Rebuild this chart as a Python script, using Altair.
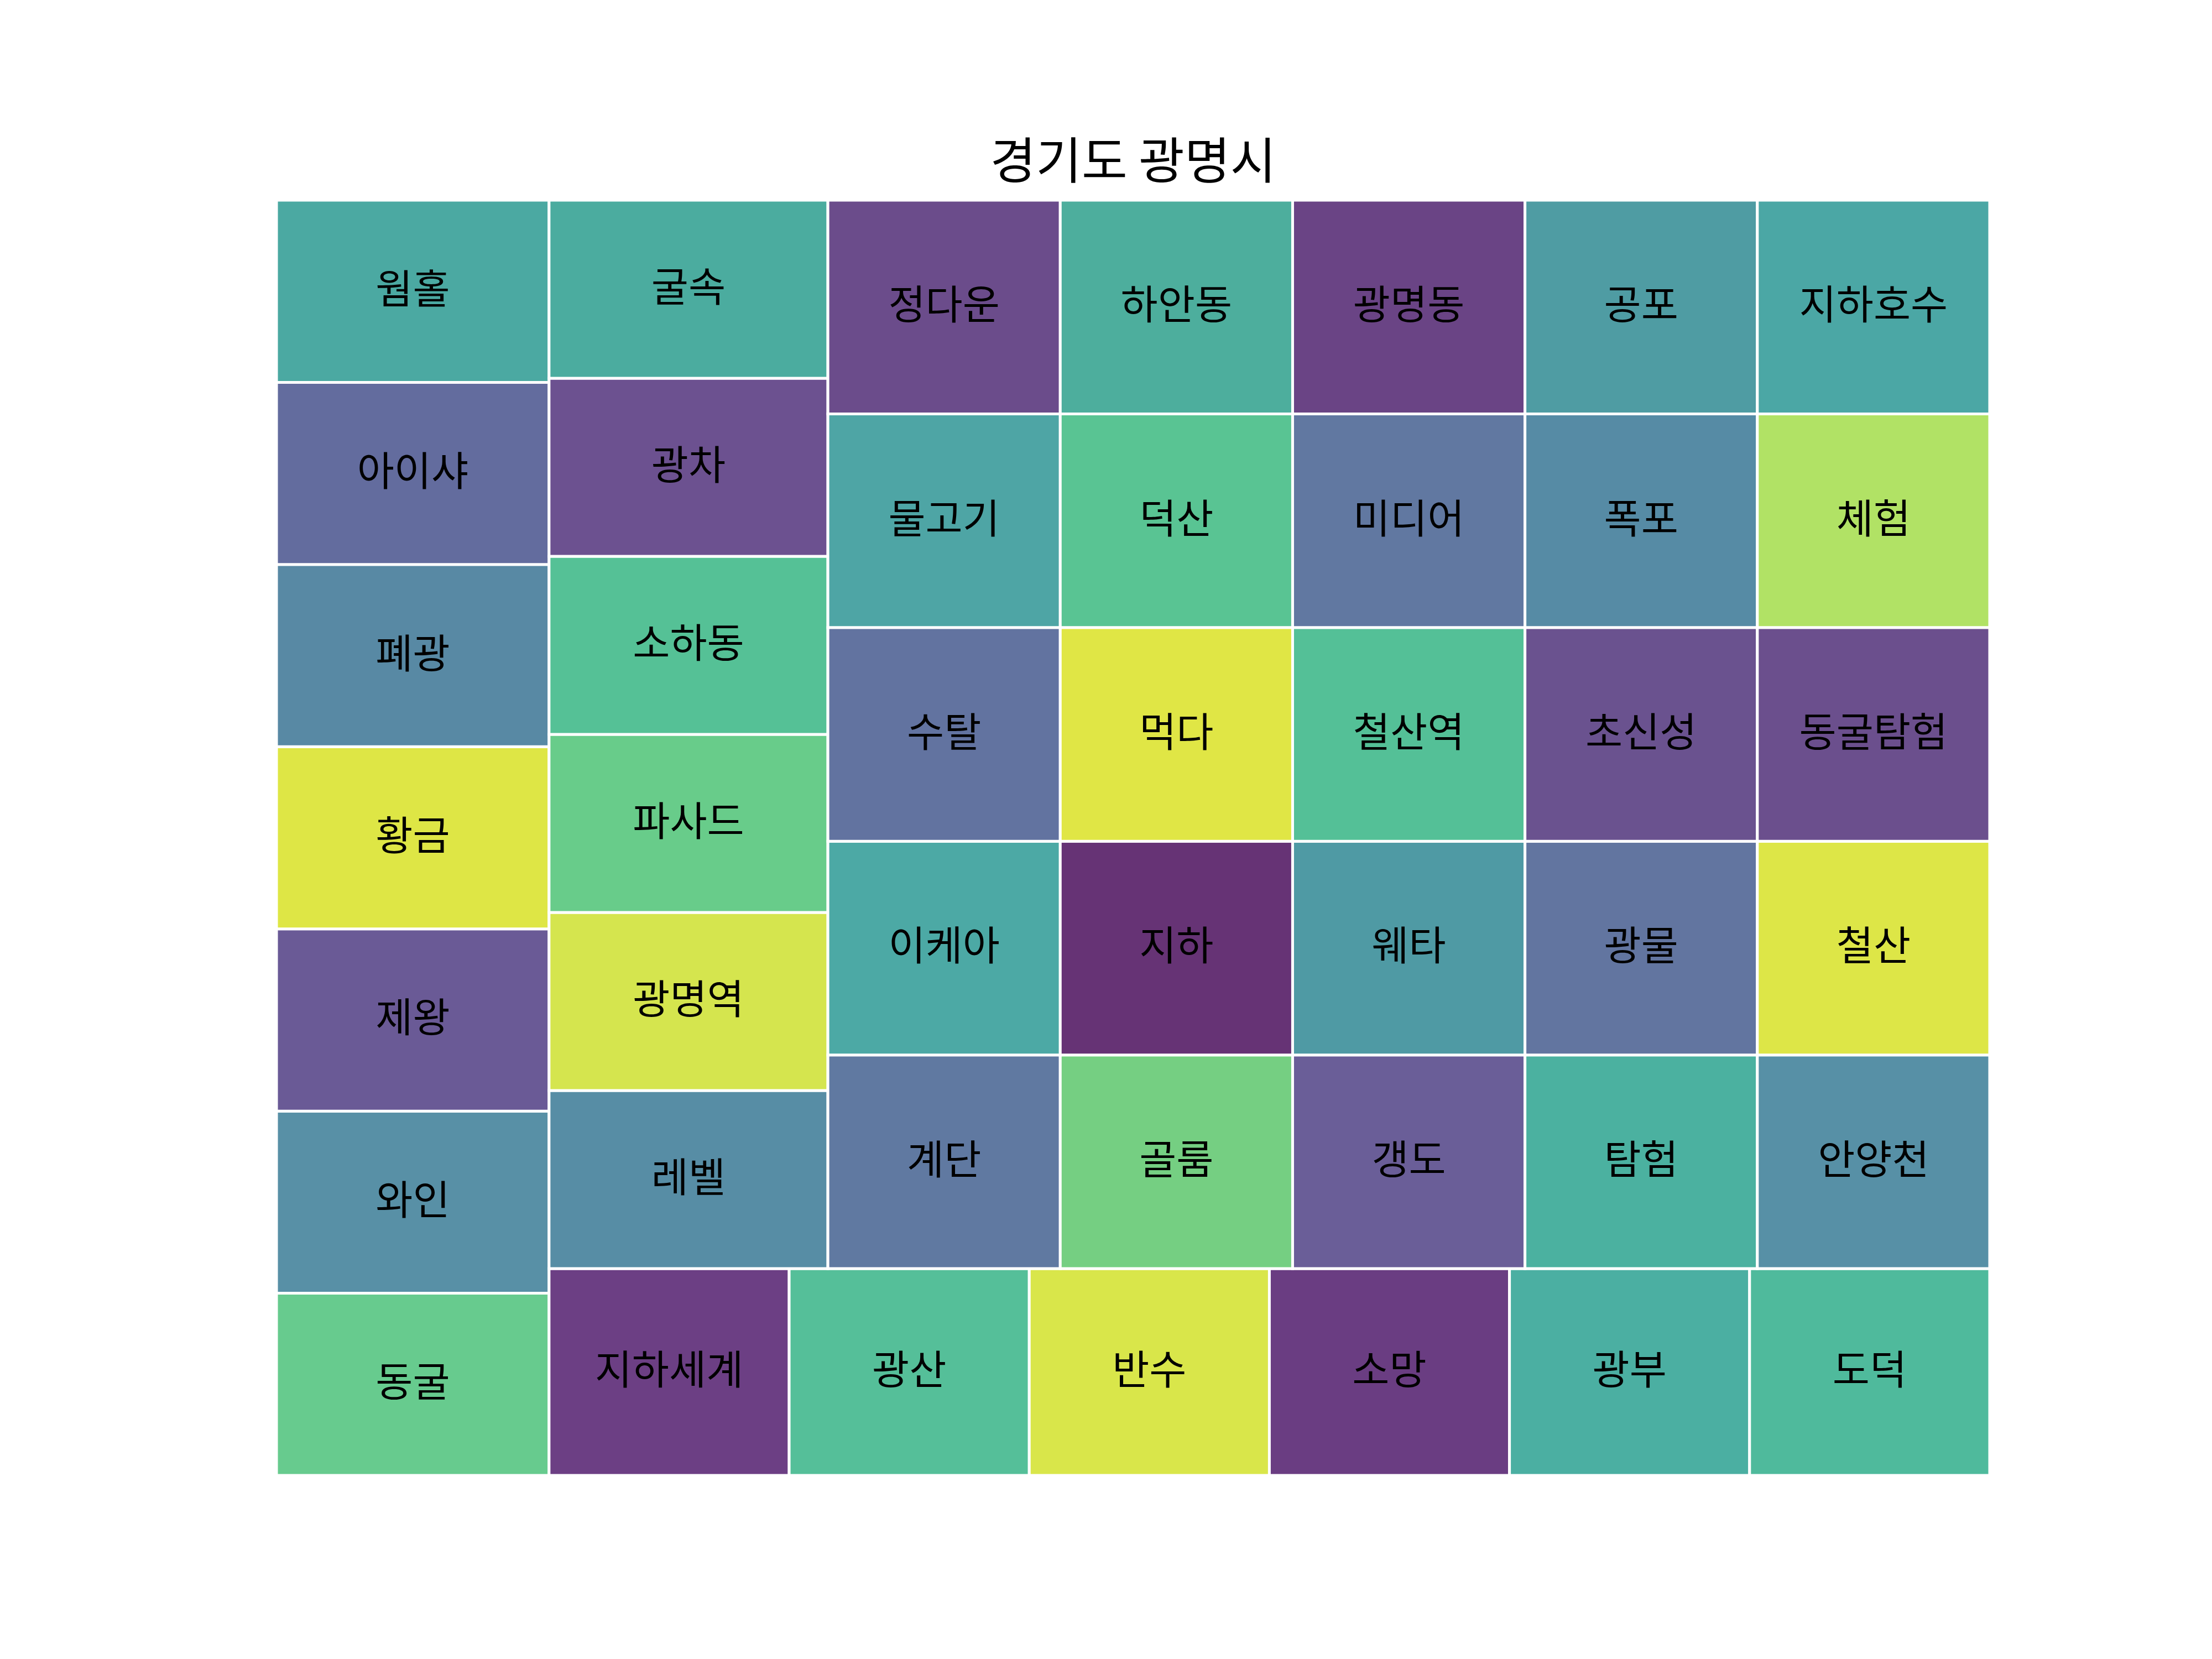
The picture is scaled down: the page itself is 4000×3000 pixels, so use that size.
import altair as alt
import pandas as pd

# ---- data ----
labels = ["동굴", "와인", "제왕", "황금", "폐광", "아이샤", "웜홀",
          "지하세계", "광산", "반수", "소망", "광부", "도덕",
          "레벨", "광명역", "파사드", "소하동", "광차", "굴속",
          "계단", "골룸", "갱도", "탐험", "안양천",
          "이케아", "수탈", "물고기", "정다운",
          "지하", "웨타", "광물", "철산",
          "먹다", "덕산", "하안동",
          "철산역", "초신성", "동굴탐험",
          "미디어", "광명동",
          "폭포", "체험",
          "공포", "지하호수"]
values = [1, 1, 1, 1, 1, 1, 1,
          1, 1, 1, 1, 1, 1,
          1, 1, 1, 1, 1, 1,
          1, 1, 1, 1, 1,
          1, 1, 1, 1,
          1, 1, 1, 1,
          1, 1, 1,
          1, 1, 1,
          1, 1,
          1, 1,
          1, 1]
colors = ["#67CB8E", "#5890A6", "#6A5A96", "#DEE645", "#5889A4", "#636C9E", "#4BA9A2",
          "#6C3F84", "#55BF99", "#D9E64A", "#6A3D82", "#4BAFA2", "#4FBA9C",
          "#578DA5", "#D5E54E", "#68CC8A", "#55C196", "#6C5190", "#4BAC9F",
          "#6079A1", "#75CF82", "#6A5E98", "#4BB1A0", "#5790A6",
          "#4CA9A5", "#6273A0", "#4EA5A5", "#6B4C8B",
          "#663375", "#4F9AA4", "#6275A0", "#DDE647",
          "#E0E645", "#59C493", "#4DAE9D",
          "#54C097", "#6A528F", "#6B4F8D",
          "#6178A1", "#6A4485",
          "#568BA5", "#B1E265",
          "#4F9CA3", "#4BA7A5"]
title_text = "경기도 광명시"


# ---- squarify layout (same algorithm as the squarify package) ----
def normalize_sizes(sizes, dx, dy):
    total = sum(sizes)
    return [s * dx * dy / total for s in sizes]


def layoutrow(sizes, x, y, dx, dy):
    width = sum(sizes) / dy
    rects = []
    for s in sizes:
        rects.append({"x": x, "y": y, "dx": width, "dy": s / width})
        y += s / width
    return rects


def layoutcol(sizes, x, y, dx, dy):
    height = sum(sizes) / dx
    rects = []
    for s in sizes:
        rects.append({"x": x, "y": y, "dx": s / height, "dy": height})
        x += s / height
    return rects


def layout(sizes, x, y, dx, dy):
    return layoutrow(sizes, x, y, dx, dy) if dx >= dy else layoutcol(sizes, x, y, dx, dy)


def leftover(sizes, x, y, dx, dy):
    if dx >= dy:
        w = sum(sizes) / dy
        return x + w, y, dx - w, dy
    h = sum(sizes) / dx
    return x, y + h, dx, dy - h


def worst_ratio(sizes, x, y, dx, dy):
    return max(max(r["dx"] / r["dy"], r["dy"] / r["dx"]) for r in layout(sizes, x, y, dx, dy))


def squarify(sizes, x, y, dx, dy):
    sizes = [float(s) for s in sizes]
    if len(sizes) == 0:
        return []
    if len(sizes) == 1:
        return layout(sizes, x, y, dx, dy)
    i = 1
    while i < len(sizes) and worst_ratio(sizes[:i], x, y, dx, dy) >= worst_ratio(sizes[:i + 1], x, y, dx, dy):
        i += 1
    cur, rem = sizes[:i], sizes[i:]
    lx, ly, ldx, ldy = leftover(cur, x, y, dx, dy)
    return layout(cur, x, y, dx, dy) + squarify(rem, lx, ly, ldx, ldy)


rects = squarify(normalize_sizes(values, 100, 100), 0, 0, 100, 100)
df = pd.DataFrame({
    "label": labels,
    "color": colors,
    "x": [r["x"] for r in rects],
    "x2": [r["x"] + r["dx"] for r in rects],
    "y": [r["y"] for r in rects],
    "y2": [r["y"] + r["dy"] for r in rects],
})
df["cx"] = (df["x"] + df["x2"]) / 2
df["cy"] = (df["y"] + df["y2"]) / 2

W, H = 3098, 2306
xs = alt.Scale(domain=[0, 100], nice=False, zero=False)
ys = alt.Scale(domain=[0, 100], nice=False, zero=False)

base = alt.Chart(df)
rect = base.mark_rect(stroke="white", strokeWidth=5).encode(
    x=alt.X("x:Q", scale=xs, axis=None),
    x2="x2:Q",
    y=alt.Y("y:Q", scale=ys, axis=None),
    y2="y2:Q",
    color=alt.Color("color:N", scale=None, legend=None),
)
text = base.mark_text(font="Noto Sans CJK KR", fontSize=73, color="black",
                      align="center", baseline="middle").encode(
    x=alt.X("cx:Q", scale=xs, axis=None),
    y=alt.Y("cy:Q", scale=ys, axis=None),
    text="label:N",
)

chart = alt.layer(rect, text).properties(
    width=W, height=H,
    title=alt.TitleParams(title_text, font="Noto Sans CJK KR", fontSize=90,
                          fontWeight="normal", color="black", anchor="middle",
                          offset=18),
    autosize=alt.AutoSizeParams(type="none"),
    padding={"left": 500, "top": 362, "right": 402, "bottom": 332},
).configure_view(stroke=None).configure(background="white")

chart.save("out.html", embed_options={"renderer": "svg", "actions": False})
